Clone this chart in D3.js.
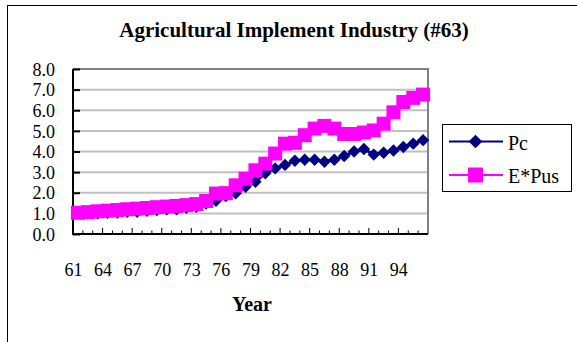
<!DOCTYPE html>
<html>
<head>
<meta charset="utf-8">
<script src="https://cdn.jsdelivr.net/npm/d3@7/dist/d3.min.js"></script>
<style>
  html, body { margin: 0; padding: 0; background: #fff; }
  svg { display: block; }
  svg text { font-family: "Liberation Serif", "Times New Roman", serif !important; fill: #000; }
</style>
</head>
<body>
<svg id="chart" width="577" height="342"></svg>
<script>
// Years (two-digit) on the category axis
const years = [61,62,63,64,65,66,67,68,69,70,71,72,73,74,75,76,77,78,79,80,
               81,82,83,84,85,86,87,88,89,90,91,92,93,94,95,96];
// Pc series
const pc = [1.00,1.00,1.00,1.03,1.04,1.08,1.08,1.13,1.16,1.20,1.20,1.27,1.32,1.48,1.61,1.84,1.97,2.29,
            2.53,2.94,3.18,3.35,3.55,3.60,3.60,3.50,3.60,3.78,4.00,4.12,3.85,3.94,4.05,4.22,4.38,4.55];
// E*Pus series
const ePus = [1.03,1.06,1.10,1.13,1.16,1.20,1.23,1.26,1.30,1.33,1.36,1.40,1.45,1.60,1.96,1.98,2.36,2.68,
              3.09,3.41,3.90,4.38,4.42,4.79,5.11,5.24,5.11,4.85,4.85,4.92,5.02,5.35,5.90,6.40,6.60,6.76];
// Value-axis ticks and labelled categories
const yTicks = [0,1,2,3,4,5,6,7,8];
const labelYears = [61,64,67,70,73,76,79,82,85,88,91,94];
const seriesNames = ["Pc", "E*Pus"];
const colors = ["#000080", "#ff00ff"];

const serif = '"Liberation Serif", "Times New Roman", serif';
const svg = d3.select("#chart");
const plot = { left: 73, right: 428, top: 69, bottom: 234 };

const x = d3.scaleBand().domain(years).range([plot.left, plot.right]).padding(0);
const y = d3.scaleLinear().domain([0, 8]).range([plot.bottom, plot.top]);
const cx = d => x(d) + x.bandwidth() / 2;

// Outer chart frame
svg.append("rect")
  .attr("x", 7.5).attr("y", 5.5).attr("width", 600).attr("height", 400)
  .attr("fill", "#fff").attr("stroke", "#000").attr("stroke-width", 1);

// Title
svg.append("text")
  .attr("x", 294).attr("y", 37)
  .attr("text-anchor", "middle")
  .style("font-family", serif)
  .attr("font-size", 21).attr("font-weight", "bold")
  .text("Agricultural Implement Industry (#63)");

// Horizontal gridlines
svg.append("g").selectAll("line")
  .data(yTicks.filter(t => t > 0 && t < 8))
  .join("line")
  .attr("x1", plot.left).attr("x2", plot.right)
  .attr("y1", d => y(d)).attr("y2", d => y(d))
  .attr("stroke", "#c0c0c0").attr("stroke-width", 2);

// Plot border: grey top and right
svg.append("path")
  .attr("d", `M${plot.left},${y(8)}H${plot.right}V${plot.bottom}`)
  .attr("fill", "none").attr("stroke", "#808080").attr("stroke-width", 2);

// Value axis
const yAxis = d3.axisLeft(y).tickValues(yTicks).tickFormat(d3.format(".1f")).tickSize(-7).tickPadding(18);
const gy = svg.append("g").attr("transform", `translate(${plot.left},0)`).call(yAxis)
  .attr("font-family", null).attr("font-size", null);
gy.select(".domain").remove();
gy.selectAll(".tick line").attr("stroke", "#000").attr("stroke-width", 2);
gy.selectAll(".tick text")
  .style("font-family", serif).style("font-size", "18px")
  .attr("fill", "#000").attr("dy", "0.34em");

// Category axis labels
const xAxis = d3.axisBottom(x).tickValues(labelYears).tickSize(0).tickPadding(0);
const gx = svg.append("g").attr("transform", `translate(0,${plot.bottom})`).call(xAxis)
  .attr("font-family", null).attr("font-size", null);
gx.select(".domain").remove();
gx.selectAll(".tick text")
  .style("font-family", serif).style("font-size", "18px")
  .attr("fill", "#000").attr("y", 42).attr("dy", 0).attr("dx", -4.5);

// Category tick marks on band boundaries (major every third)
const boundaries = years.slice(1).map((d, i) => ({ pos: x(d), major: (i + 1) % 3 === 0 }));
svg.append("g").selectAll("line")
  .data(boundaries)
  .join("line")
  .attr("x1", d => d.pos).attr("x2", d => d.pos)
  .attr("y1", plot.bottom).attr("y2", d => plot.bottom - (d.major ? 6 : 3.5))
  .attr("stroke", "#000").attr("stroke-width", 1);

// Black left and bottom axis lines
svg.append("path")
  .attr("d", `M${plot.left},${y(8)}V${plot.bottom}H${plot.right}`)
  .attr("fill", "none").attr("stroke", "#000").attr("stroke-width", 2);

// Axis title
svg.append("text")
  .attr("x", 252).attr("y", 311)
  .attr("text-anchor", "middle")
  .style("font-family", serif)
  .attr("font-size", 20).attr("font-weight", "bold")
  .text("Year");

// Marker shapes
const diamond = d3.symbol().type(d3.symbolDiamond2).size(98);
const square = d3.symbol().type(d3.symbolSquare).size(196);

function drawSeries(values, color, shape) {
  const g = svg.append("g");
  g.append("path")
    .datum(values)
    .attr("fill", "none").attr("stroke", color).attr("stroke-width", 3)
    .attr("d", d3.line().x((d, i) => cx(years[i])).y(d => y(d)));
  g.selectAll("path.m")
    .data(values)
    .join("path").attr("class", "m")
    .attr("transform", (d, i) => `translate(${cx(years[i])},${y(d)})`)
    .attr("d", shape)
    .attr("fill", color);
}
drawSeries(pc, colors[0], diamond);
drawSeries(ePus, colors[1], square);

// Legend
const legend = svg.append("g");
legend.append("rect")
  .attr("x", 442.5).attr("y", 124.5).attr("width", 129).attr("height", 67)
  .attr("fill", "#fff").attr("stroke", "#000").attr("stroke-width", 1);
const legendShapes = [
  d3.symbol().type(d3.symbolDiamond2).size(120),
  d3.symbol().type(d3.symbolSquare).size(225)
];
seriesNames.forEach((name, i) => {
  const ly = 141.5 + i * 33.5;
  legend.append("line")
    .attr("x1", 449).attr("x2", 503).attr("y1", ly).attr("y2", ly)
    .attr("stroke", colors[i]).attr("stroke-width", 2);
  legend.append("path")
    .attr("transform", `translate(475.5,${ly})`)
    .attr("d", legendShapes[i]())
    .attr("fill", colors[i]);
  legend.append("text")
    .attr("x", 508).attr("y", ly + 8)
    .style("font-family", serif)
    .attr("font-size", 20)
    .text(name);
});
</script>
</body>
</html>
